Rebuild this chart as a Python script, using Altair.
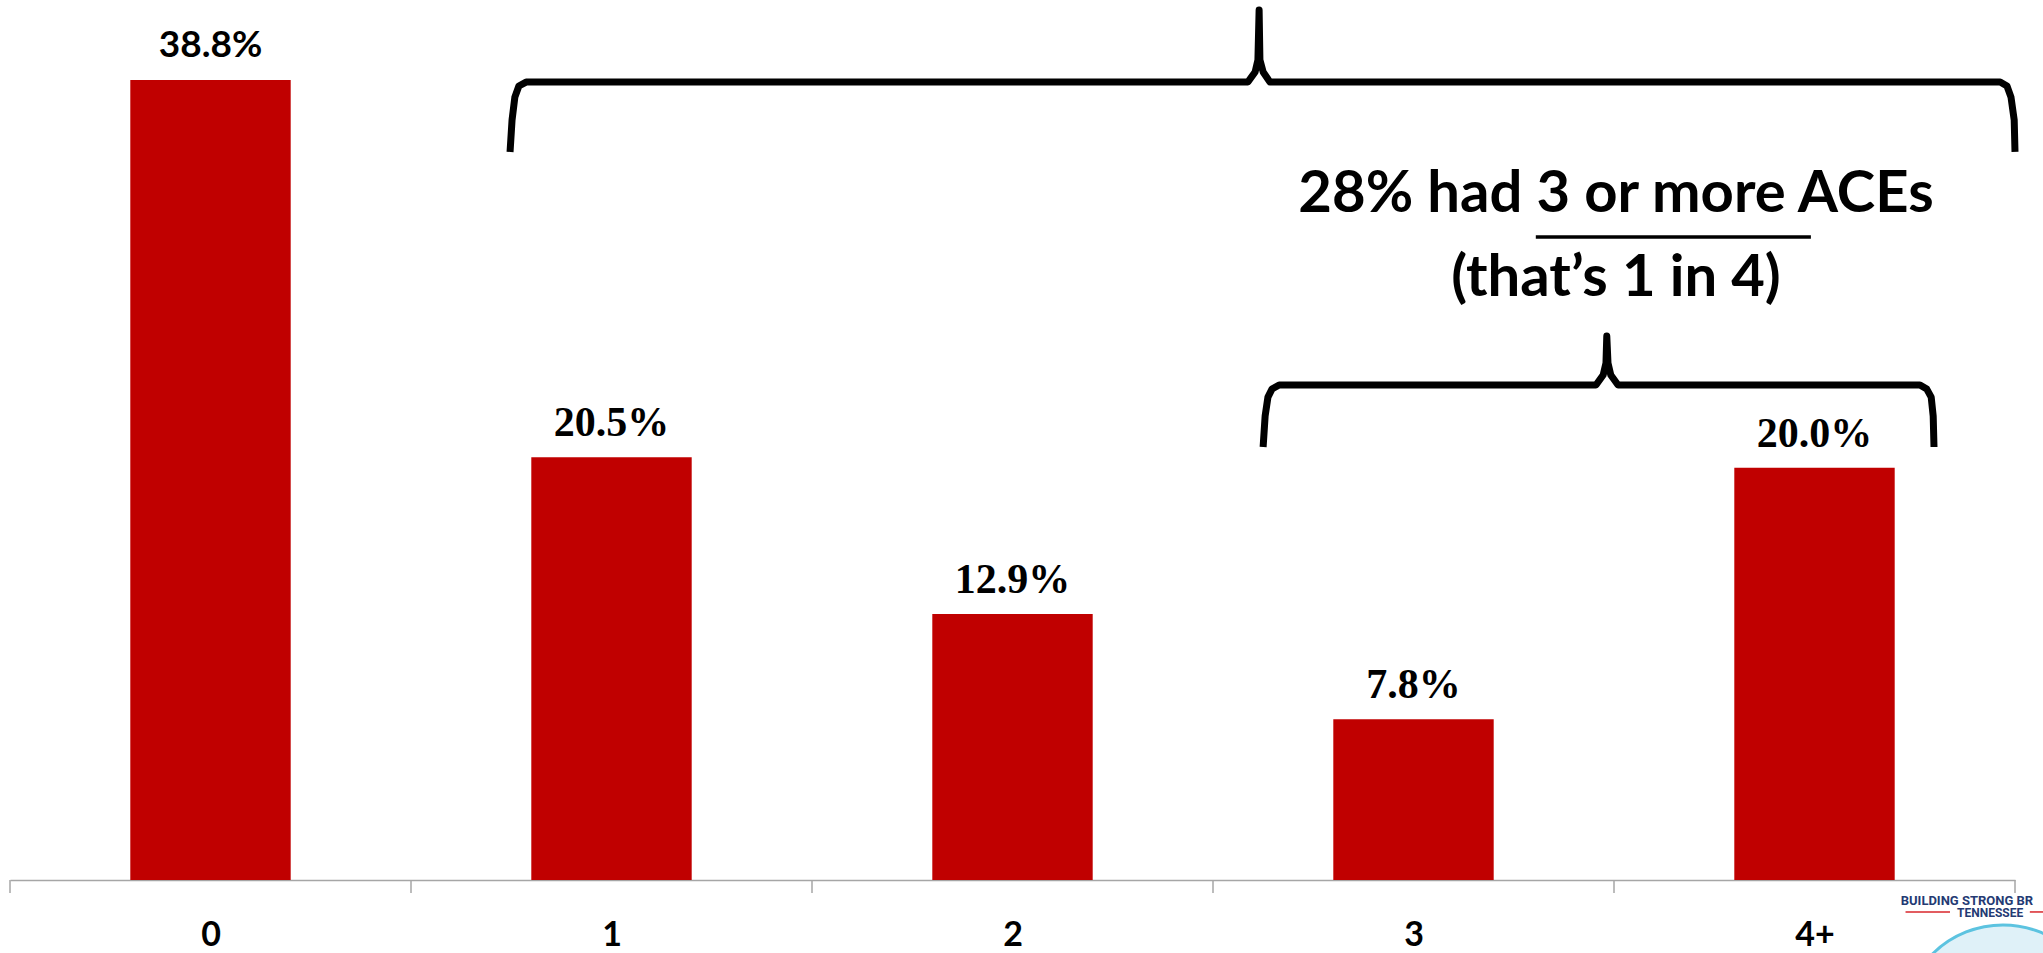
import json
import altair as alt
import pandas as pd

# ---- data ----
categories = ["0", "1", "2", "3", "4+"]
values = [38.8, 20.5, 12.9, 7.8, 20.0]
value_labels = ["38.8%", "20.5%", "12.9%", "7.8%", "20.0%"]

# tick boundaries between categories (category units)
tick_positions = [-0.5, 0.5, 1.5, 2.5, 3.5, 4.5]

# large brace (category units, percent units)
brace1_x = [0.747, 0.752, 0.759, 0.769, 0.787, 2.587, 2.605, 2.612, 2.615,
            2.617, 2.625, 2.642, 4.463, 4.480, 4.490, 4.498, 4.500]
brace1_y = [35.31, 36.86, 37.97, 38.51, 38.70, 38.70, 39.19, 39.77, 42.19,
            39.77, 39.19, 38.70, 38.70, 38.51, 37.97, 36.86, 35.31]

# small brace
brace2_x = [2.625, 2.630, 2.637, 2.647, 2.665, 3.455, 3.473, 3.480, 3.482,
            3.485, 3.492, 3.510, 4.263, 4.280, 4.291, 4.296, 4.298]
brace2_y = [21.00, 22.50, 23.42, 23.81, 24.01, 24.01, 24.49, 25.07, 26.38,
            25.07, 24.49, 24.01, 24.01, 23.81, 23.42, 22.50, 21.00]

note_lines = ["28% had 3 or more ACEs", "(that\u2019s 1 in 4)"]
note_x = [3.505, 3.505]
note_y = [32.4, 28.3]
underline_x = [3.305, 3.991]
underline_y = 31.18

# logo fragment at the bottom-right corner (cut by the slide edge)
logo_top_text = "BUILDING STRONG BR"
logo_top_x, logo_top_y = 4.215, -1.21
logo_sub_text = "TENNESSEE"
logo_sub_x, logo_sub_y = 4.438, -1.80
logo_line_x = [4.227, 4.537]
logo_line_x2 = [4.338, 4.570]
logo_line_y = -1.55
brain_x, brain_y = 4.47, -7.03

Y_MAX = 42.68
BAR_HALF = 0.2
RED = "#C00000"

bars_df = pd.DataFrame({"pos": list(range(len(categories))), "cat": categories,
                        "value": values, "label": value_labels,
                        "zero": [0.0] * len(categories)})

yscale = alt.Scale(domain=[0, Y_MAX], nice=False, zero=True)
xq = alt.Scale(domain=[-0.5, 4.5], nice=False, zero=False)
label_expr = json.dumps(categories) + "[datum.value]"

base = alt.Chart(bars_df)

bars = base.transform_calculate(
    x0=f"datum.pos - {BAR_HALF}", x1=f"datum.pos + {BAR_HALF}"
).mark_bar(color=RED).encode(
    x=alt.X("x0:Q", scale=xq,
            axis=alt.Axis(title=None, values=list(range(len(categories))),
                          labelExpr=label_expr, labelAngle=0, ticks=False,
                          grid=False, domain=True,
                          domainColor="#a6a6a6", domainWidth=1.5,
                          labelFont="Lato", labelFontWeight="bold",
                          labelFontSize=34, labelColor="black",
                          labelBaseline="alphabetic", labelPadding=65,
                          labelFlush=False, labelOverlap=False)),
    x2="x1:Q",
    y=alt.Y("value:Q", scale=yscale, axis=None),
    y2="zero:Q",
)

label_sans = base.transform_filter(alt.datum.pos == 0).mark_text(
    font="Lato", fontWeight="bold", fontSize=37, color="black",
    baseline="alphabetic", dy=-23
).encode(
    x=alt.X("pos:Q", scale=xq), y=alt.Y("value:Q", scale=yscale), text="label:N"
)

label_serif = base.transform_filter(alt.datum.pos != 0).mark_text(
    font="Liberation Serif", fontWeight="bold", fontSize=42, color="black",
    baseline="alphabetic", dy=-21
).encode(
    x=alt.X("pos:Q", scale=xq), y=alt.Y("value:Q", scale=yscale), text="label:N"
)

ticks_df = pd.DataFrame({"x": tick_positions, "y0": [0.0] * len(tick_positions),
                         "y1": [-0.63] * len(tick_positions)})
ticks = alt.Chart(ticks_df).mark_rule(color="#a6a6a6", strokeWidth=1.5, clip=False).encode(
    x=alt.X("x:Q", scale=xq),
    y=alt.Y("y0:Q", scale=yscale), y2="y1:Q")

b1 = pd.DataFrame({"x": brace1_x, "y": brace1_y, "i": list(range(len(brace1_x)))})
b2 = pd.DataFrame({"x": brace2_x, "y": brace2_y, "i": list(range(len(brace2_x)))})


def brace(df):
    return alt.Chart(df).mark_line(color="black", strokeWidth=7, strokeJoin="round",
                                   strokeCap="butt", clip=False).encode(
        x=alt.X("x:Q", scale=xq),
        y=alt.Y("y:Q", scale=yscale),
        order="i:Q")


notes_df = pd.DataFrame({"t": note_lines, "x": note_x, "y": note_y})
notes = alt.Chart(notes_df).mark_text(font="Lato", fontWeight="bold", fontSize=58,
                                      color="black", baseline="alphabetic",
                                      align="center").encode(
    x=alt.X("x:Q", scale=xq), y=alt.Y("y:Q", scale=yscale), text="t:N")

ul_df = pd.DataFrame({"x": [underline_x[0]], "x2": [underline_x[1]], "y": [underline_y]})
underline = alt.Chart(ul_df).mark_rule(color="black", strokeWidth=3.5).encode(
    x=alt.X("x:Q", scale=xq), x2="x2:Q",
    y=alt.Y("y:Q", scale=yscale))

# logo pieces
brain_df = pd.DataFrame({"x": [brain_x], "y": [brain_y]})
brain = alt.Chart(brain_df).mark_point(shape="circle", filled=True, fill="#dff1f8",
                                       stroke="#5cc3e0", strokeWidth=3, size=40000,
                                       opacity=1, clip=False).encode(
    x=alt.X("x:Q", scale=xq), y=alt.Y("y:Q", scale=yscale))

logo_top_df = pd.DataFrame({"t": [logo_top_text], "x": [logo_top_x], "y": [logo_top_y]})
logo_top = alt.Chart(logo_top_df).mark_text(
    font="Roboto", fontWeight="bold",
    fontSize=13, color="#243a73", align="left", baseline="alphabetic", clip=False
).encode(x=alt.X("x:Q", scale=xq), y=alt.Y("y:Q", scale=yscale), text="t:N")

logo_sub_df = pd.DataFrame({"t": [logo_sub_text], "x": [logo_sub_x], "y": [logo_sub_y]})
logo_sub = alt.Chart(logo_sub_df).mark_text(
    font="Roboto", fontWeight="bold",
    fontSize=12, color="#243a73", align="center", baseline="alphabetic", clip=False
).encode(x=alt.X("x:Q", scale=xq), y=alt.Y("y:Q", scale=yscale), text="t:N")

logo_lines_df = pd.DataFrame({"x": logo_line_x, "x2": logo_line_x2,
                              "y": [logo_line_y] * len(logo_line_x)})
logo_lines = alt.Chart(logo_lines_df).mark_rule(color="#d9262b", strokeWidth=1.5,
                                                clip=False).encode(
    x=alt.X("x:Q", scale=xq), x2="x2:Q", y=alt.Y("y:Q", scale=yscale))

chart = alt.layer(
    bars, label_sans, label_serif, ticks, brace(b1), brace(b2),
    notes, underline, brain, logo_lines, logo_top, logo_sub
).properties(
    width=2005, height=880,
    padding={"left": 10, "top": 0, "right": 28, "bottom": 73},
    autosize=alt.AutoSizeParams(type="none"),
    background="white",
).configure_view(stroke=None)

chart.save("out.html", embed_options={"renderer": "svg", "actions": False})
